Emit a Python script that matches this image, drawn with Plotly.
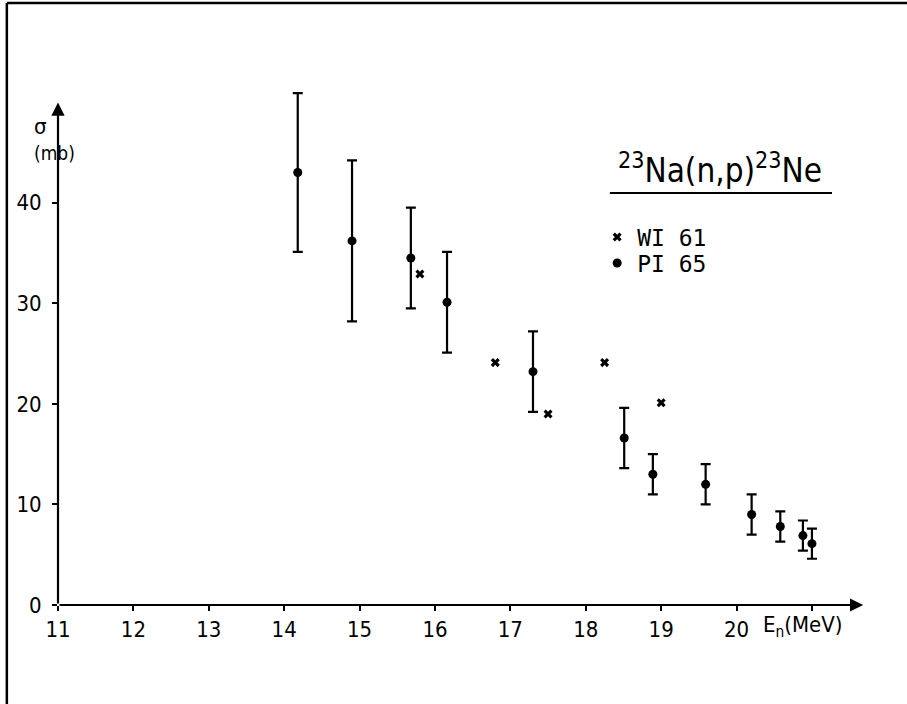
import plotly.graph_objects as go

# ---- data ----
wi_energy = [15.8, 16.8, 17.5, 18.25, 19.0]
wi_sigma = [32.9, 24.1, 19.0, 24.1, 20.1]

pi_energy = [14.18, 14.9, 15.68, 16.16, 17.3, 18.51, 18.89, 19.59, 20.2, 20.58, 20.88, 21.0]
pi_sigma = [43.0, 36.2, 34.5, 30.1, 23.2, 16.6, 13.0, 12.0, 9.0, 7.8, 6.9, 6.1]
pi_error = [7.9, 8.0, 5.0, 5.0, 4.0, 3.0, 2.0, 2.0, 2.0, 1.5, 1.5, 1.5]

x_ticks = [11, 12, 13, 14, 15, 16, 17, 18, 19, 20, 21]
x_ticktext = ["11", "12", "13", "14", "15", "16", "17", "18", "19", "20", ""]
y_ticks = [0, 10, 20, 30, 40]

FONT = "DejaVu Sans Condensed, Liberation Sans Narrow, DejaVu Sans, sans-serif"
MONO = "DejaVu Sans Mono, Liberation Mono, monospace"

fig = go.Figure()
fig.add_trace(go.Scatter(
    x=wi_energy, y=wi_sigma, mode="markers", name="WI 61", legend="legend",
    marker=dict(symbol="x", size=8, color="black"),
))
fig.add_trace(go.Scatter(
    x=pi_energy, y=pi_sigma, mode="markers", name="PI 65", legend="legend2",
    marker=dict(symbol="circle", size=9, color="black"),
    error_y=dict(type="data", array=pi_error, visible=True,
                 color="black", thickness=2.2, width=5),
))

annotations = [
    # axis arrows
    dict(x=21.68, y=0, ax=11, ay=0, xref="x", yref="y", axref="x", ayref="y",
         showarrow=True, arrowhead=2, arrowsize=1.2, arrowwidth=2.2,
         arrowcolor="black", text="", standoff=0),
    dict(x=11, y=49.95, ax=11, ay=0, xref="x", yref="y", axref="x", ayref="y",
         showarrow=True, arrowhead=2, arrowsize=1.2, arrowwidth=2.2,
         arrowcolor="black", text="", standoff=0),
    # axis labels
    dict(x=-0.032, y=0.914, xref="paper", yref="paper", text="σ",
         showarrow=False, yanchor="middle",
         font=dict(family=FONT, size=22, color="black")),
    dict(x=-0.032, y=0.864, xref="paper", yref="paper", text="(mb)",
         showarrow=False, yanchor="middle",
         font=dict(family=FONT, size=19, color="black")),
    dict(x=0.866, y=-0.042, xref="paper", yref="paper", xanchor="left",
         yanchor="middle",
         text="E<sub>n</sub>(MeV)", showarrow=False,
         font=dict(family=FONT, size=22, color="black")),
    # reaction title
    dict(x=0.815, y=0.835, xref="paper", yref="paper", xanchor="center",
         yanchor="middle", text="<sup>23</sup>Na(n,p)<sup>23</sup>Ne",
         showarrow=False, font=dict(family=FONT, size=33, color="black")),
]

shapes = [
    # underline of title
    dict(type="line", xref="paper", yref="paper", x0=0.6797, x1=0.9532,
         y0=0.788, y1=0.788, line=dict(color="black", width=2)),
    # page frame (top and left)
    dict(type="line", xref="paper", yref="paper", x0=-0.063, x1=1.06,
         y0=1.151, y1=1.151, line=dict(color="black", width=2.5)),
    dict(type="line", xref="paper", yref="paper", x0=-0.063, x1=-0.063,
         y0=1.151, y1=-0.2, line=dict(color="black", width=2.5)),
]

legend_style = dict(xanchor="left", yanchor="middle",
                    font=dict(family=MONO, size=23, color="black"),
                    bgcolor="rgba(0,0,0,0)", itemwidth=30)

fig.update_layout(
    width=907, height=704,
    margin=dict(l=58, r=37, t=82, b=99),
    paper_bgcolor="white", plot_bgcolor="white",
    font=dict(family=FONT, size=22, color="black"),
    showlegend=True,
    legend=dict(x=0.664, y=(605 - 237) / 523, **legend_style),
    legend2=dict(x=0.664, y=(605 - 263) / 523, **legend_style),
    annotations=annotations,
    shapes=shapes,
)
fig.update_xaxes(range=[11, 21.77], showgrid=False, zeroline=False, showline=False,
                 tickmode="array", tickvals=x_ticks, ticktext=x_ticktext,
                 ticks="outside", ticklen=5, tickwidth=2, tickcolor="black",
                 tickfont=dict(family=FONT, size=22, color="black"))
fig.update_yaxes(range=[0, 52], showgrid=False, zeroline=False, showline=False,
                 tickmode="array", tickvals=y_ticks,
                 ticks="outside", ticklen=5, tickwidth=2, tickcolor="black",
                 ticklabelstandoff=6,
                 tickfont=dict(family=FONT, size=22, color="black"))

fig.write_html("out.html", config={"displayModeBar": False},
               post_script="document.body.style.margin='0';")
